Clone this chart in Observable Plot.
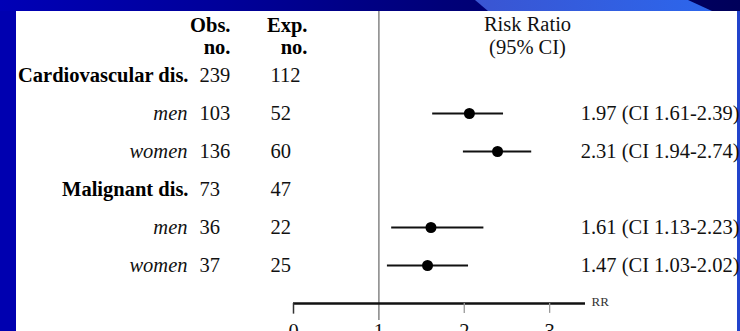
<!DOCTYPE html>
<html>
<head>
<meta charset="utf-8">
<script src="https://cdn.jsdelivr.net/npm/d3@7"></script>
<script src="https://cdn.jsdelivr.net/npm/@observablehq/plot@0.6"></script>
<style>
  html, body { margin: 0; padding: 0; }
  body { background: #0000b0; }
  #bg { position: absolute; left: 0; top: 0; z-index: 0; }
  #chart { position: relative; z-index: 1; }
</style>
</head>
<body>
<svg id="bg" width="740" height="331" xmlns="http://www.w3.org/2000/svg">
  <defs>
    <linearGradient id="topg" x1="0" x2="1" y1="0" y2="0">
      <stop offset="0" stop-color="#0000b6"/>
      <stop offset="0.3" stop-color="#00009a"/>
      <stop offset="0.6" stop-color="#000078"/>
      <stop offset="1" stop-color="#00005a"/>
    </linearGradient>
    <linearGradient id="bandg" x1="0" x2="1" y1="0" y2="0">
      <stop offset="0" stop-color="#3a55d2"/>
      <stop offset="1" stop-color="#2c66ec"/>
    </linearGradient>
  </defs>
  <rect x="0" y="0" width="740" height="331" fill="#0000b0"/>
  <rect x="0" y="0" width="740" height="11" fill="url(#topg)"/>
  <polygon points="475,0 688,0 712,11 488,11" fill="url(#bandg)"/>
  <rect x="16" y="11" width="721" height="320" fill="#fff"/>
  <rect x="737" y="11" width="3" height="320" fill="#2244cc"/>
</svg>
<div id="chart"></div>
<script>
// ---- data ----
const rowLabels = ["Cardiovascular dis.", "men", "women", "Malignant dis.", "men", "women"];
const rowIsGroup = [true, false, false, true, false, false];
const observed = [239, 103, 136, 73, 36, 37];
const expected = [112, 52, 60, 47, 22, 25];
const rrLabels = [null, "1.97 (CI 1.61-2.39)", "2.31 (CI 1.94-2.74)", null, "1.61 (CI 1.13-2.23)", "1.47 (CI 1.03-2.02)"];
// plotted positions as drawn in the picture
const rrPoint = [null, 2.06, 2.39, null, 1.61, 1.57];
const rrLow   = [null, 1.63, 1.99, null, 1.15, 1.10];
const rrHigh  = [null, 2.46, 2.79, null, 2.23, 2.05];
const axisTicks = [0, 1, 2, 3];
const axisMax = 3.42;
const axisTitle = "RR";
const headObs = "Obs.\nno.";
const headExp = "Exp.\nno.";
const headRR = "Risk Ratio\n(95% CI)";

const rows = rowLabels.map((label, i) => ({
  row: i, label, group: rowIsGroup[i], obs: observed[i], exp: expected[i],
  rr: rrLabels[i], est: rrPoint[i], lo: rrLow[i], hi: rrHigh[i]
}));
const ests = rows.filter(d => d.est != null);
const axisRow = rows.length; // row just below the last one

const serifName = "Liberation Serif";
const fs = 20.5;
const ink = "#111";
const T = (o) => Object.assign({ fontFamily: serifName, fontSize: fs, fill: ink }, o);

const chart = Plot.plot({
  width: 740,
  height: 331,
  marginTop: 0, marginBottom: 0, marginLeft: 0, marginRight: 0,
  style: "background: transparent;",
  x: { domain: [0, axisMax], range: [293, 585], axis: null },
  y: { domain: [0, 5], range: [75, 265], axis: null },
  marks: [
    // reference line at RR = 1
    Plot.ruleX([1], { x: d => d, stroke: "#8c8c8c", strokeWidth: 1.6, insetTop: 11, insetBottom: 11 }),
    // axis line
    Plot.ruleY([axisRow], { y: d => d, x1: 0, x2: axisMax, stroke: "#111", strokeWidth: 2.5 }),
    // ticks
    Plot.ruleX([0], { x: d => d, y1: axisRow, y2: axisRow + 0.28, stroke: "#333", strokeWidth: 1.5 }),
    Plot.ruleX(axisTicks.filter(t => t > 1), { x: d => d, y1: axisRow, y2: axisRow + 0.26, stroke: "#999", strokeWidth: 1.3 }),
    Plot.text(axisTicks, T({ x: d => d, y: () => axisRow, dy: 20, lineAnchor: "top", text: d => String(d) })),
    Plot.text([axisTitle], T({ x: () => axisMax, y: () => axisRow, dx: 6, dy: -2, textAnchor: "start", fontSize: 13, fill: "#333" })),
    // confidence intervals and estimates
    Plot.ruleY(ests, { y: "row", x1: "lo", x2: "hi", stroke: "#111", strokeWidth: 2 }),
    Plot.dot(ests, { x: "est", y: "row", r: 5.5, fill: "#000", stroke: "none" }),
    // row labels
    Plot.text(rows.filter(d => d.group), T({ y: "row", text: "label", frameAnchor: "left", dx: 188, textAnchor: "end", fontWeight: "bold", fill: "#000" })),
    Plot.text(rows.filter(d => !d.group), T({ y: "row", text: "label", frameAnchor: "left", dx: 187, textAnchor: "end", fontStyle: "italic" })),
    // table columns
    Plot.text(rows, T({ y: "row", text: d => String(d.obs), frameAnchor: "left", dx: 199, textAnchor: "start" })),
    Plot.text(rows, T({ y: "row", text: d => String(d.exp), frameAnchor: "left", dx: 270, textAnchor: "start" })),
    Plot.text(ests, T({ y: "row", text: "rr", frameAnchor: "right", dx: -1, textAnchor: "end" })),
    // headers
    Plot.text([headObs], T({ frameAnchor: "top-left", dx: 230, dy: 15, textAnchor: "end", lineAnchor: "top", lineHeight: 1.1, fontWeight: "bold", fill: "#000" })),
    Plot.text([headExp], T({ frameAnchor: "top-left", dx: 307, dy: 15, textAnchor: "end", lineAnchor: "top", lineHeight: 1.1, fontWeight: "bold", fill: "#000" })),
    Plot.text([headRR], T({ frameAnchor: "top-left", dx: 527, dy: 14, textAnchor: "middle", lineAnchor: "top", lineHeight: 1.12 }))
  ]
});
document.getElementById("chart").appendChild(chart);
</script>
</body>
</html>
